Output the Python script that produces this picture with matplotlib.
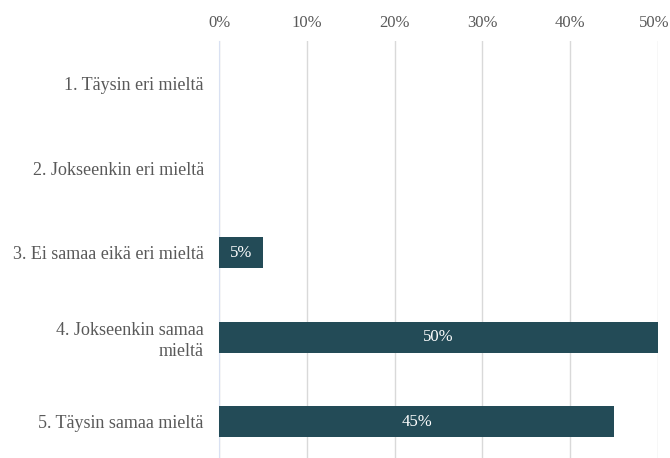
import matplotlib.pyplot as plt
import matplotlib.ticker as ticker
import matplotlib.transforms as mtransforms

kategoriat = [
    "1. Täysin eri mieltä",
    "2. Jokseenkin eri mieltä",
    "3. Ei samaa eikä eri mieltä",
    "4. Jokseenkin samaa\nmieltä",
    "5. Täysin samaa mieltä",
]
osuudet = [0.0, 0.0, 0.05, 0.50, 0.45]

plt.rcParams['font.family'] = ['Liberation Serif', 'DejaVu Serif']

fig = plt.figure(figsize=(6.7, 4.58), dpi=100)
ax = fig.add_axes([0.327, -0.013, 0.655, 0.9225])

y = list(range(len(kategoriat)))
bars = ax.barh(y, osuudet, height=0.37, color="#234B57", zorder=3)

for b, v in zip(bars, osuudet):
    if v > 0:
        ax.text(b.get_x() + b.get_width() / 2, b.get_y() + b.get_height() / 2,
                f"{v:.0%}", color="white", ha="center", va="center", fontsize=12, zorder=4)

ax.set_xlim(0, 0.5)
ax.set_ylim(len(kategoriat) - 0.5, -0.5)
ax.set_yticks(y)
ax.set_yticklabels(kategoriat, fontsize=13, color="#595959", ha="right", linespacing=1.3)
ax.xaxis.tick_top()
ax.set_xticks([0, 0.1, 0.2, 0.3, 0.4, 0.5])
ax.xaxis.set_major_formatter(ticker.FuncFormatter(lambda x, p: f"{x:.0%}"))
ax.tick_params(axis="x", length=0, pad=7.5, labelsize=12, labelcolor="#595959")
ax.tick_params(axis="y", length=0, pad=11)

# 50% ei saa leikkautua oikeasta reunasta
viimeinen = ax.xaxis.get_major_ticks()[-1].label2
viimeinen.set_transform(viimeinen.get_transform() +
                        mtransforms.ScaledTranslation(-3 / 72, 0, fig.dpi_scale_trans))

ax.grid(axis="x", color="#D9D9D9", linewidth=1, zorder=0)
for s in ["top", "right", "bottom"]:
    ax.spines[s].set_visible(False)
ax.spines["left"].set_color("#D9E1F2")
ax.spines["left"].set_zorder(2)

fig.savefig("out.png", dpi=100)
